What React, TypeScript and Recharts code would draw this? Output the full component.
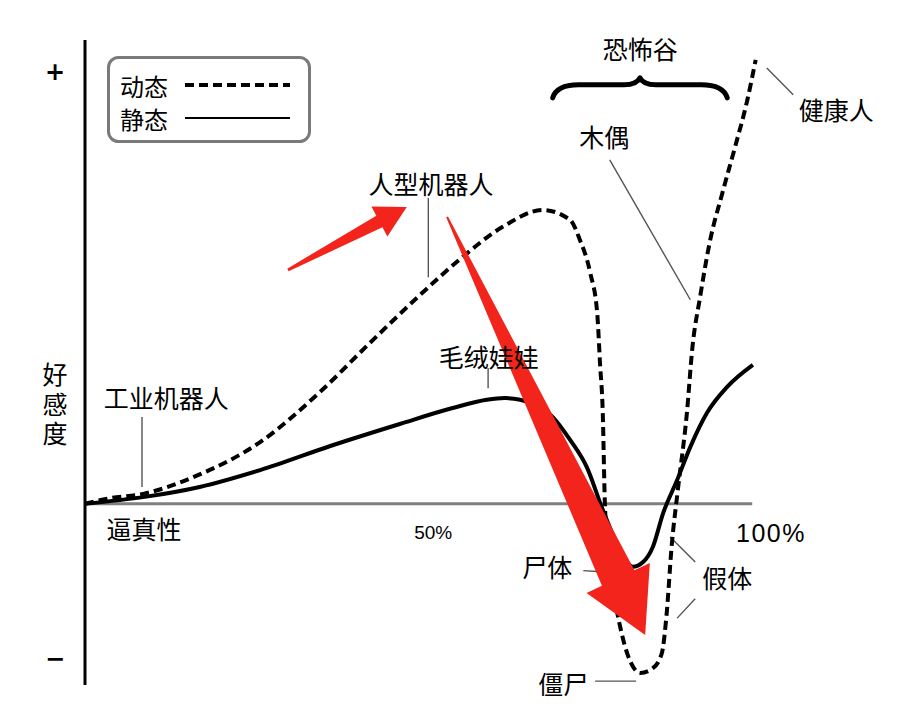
import React from "react";
import {
  Legend,
  Line,
  LineChart,
  ReferenceDot,
  ReferenceLine,
  XAxis,
  YAxis
} from "recharts";

// realism (0-100%) vs affinity
const dynamicX = [0, 3.6, 8.35, 16.5, 25.2, 33.8, 41.0, 48.2, 54.4, 60.1, 65.9, 69.8, 71.2, 72.7, 73.7, 74.1, 74.5, 74.8, 75.5, 76.5, 78.0, 79.9, 81.7, 83.0, 83.7, 84.4, 85.3, 86.6, 87.4, 88.5, 89.9, 91.7, 93.5, 95.3, 96.5];
const dynamicY = [0, 1.3, 2.3, 6.8, 14.3, 25.9, 37.3, 48.4, 57.3, 64.2, 68.1, 65.8, 61.2, 53.5, 44.2, 32.6, 21.0, 0.2, -15.3, -24.6, -34.6, -39.2, -38.1, -34.6, -25.3, -10.0, 3.2, 21.0, 36.3, 47.9, 60.7, 72.0, 82.5, 93.6, 102.9];

const staticX = [0, 8.6, 16.5, 25.2, 35.3, 45.3, 52.9, 57.8, 60.4, 62.6, 67.3, 69.8, 72.2, 74.5, 77.0, 78.8, 80.3, 81.7, 83.2, 85.2, 87.1, 89.5, 92.4, 96.1];
const staticY = [0, 1.6, 3.9, 7.8, 13.4, 18.5, 22.2, 24.1, 24.5, 24.1, 20.1, 14.8, 8.5, -1.4, -10.7, -14.6, -13.5, -10.0, -2.1, 5.5, 13.2, 21.1, 27.1, 32.2];

const yTicks = [100, -36];

const dynamicData = dynamicX.map((x, i) => ({ x, y: dynamicY[i] }));
const staticData = staticX.map((x, i) => ({ x, y: staticY[i] }));

// annotations, in chart coordinates
const labels = [
  { text: "恐怖谷", x: 79.9, y: 105.7 },
  { text: "健康人", x: 108.1, y: 91.6 },
  { text: "木偶", x: 74.7, y: 85.3 },
  { text: "人型机器人", x: 49.8, y: 74.4 },
  { text: "毛绒娃娃", x: 58.1, y: 34.3 },
  { text: "工业机器人", x: 11.7, y: 24.8 },
  { text: "逼真性", x: 8.5, y: -5.5 },
  { text: "尸体", x: 66.5, y: -14.4 },
  { text: "假体", x: 92.4, y: -16.9 },
  { text: "僵尸", x: 68.8, y: -41.5 }
];

const yTitle = "好感度";
const yTitleAt = { x: -4.3, y: 22.6 };

const percentLabels = [
  { text: "50%", x: 50.1, y: -6.7, size: 19 },
  { text: "100%", x: 98.7, y: -6.7, size: 25 }
];

const leaders: [number, number, number, number][] = [
  [98.1, 101.0, 101.9, 94.8],
  [75.5, 79.7, 87.1, 47.3],
  [49.4, 70.9, 49.4, 52.5],
  [58.0, 31.5, 58.0, 26.8],
  [8.2, 20.1, 8.2, 3.9],
  [71.7, -15.5, 73.7, -15.7],
  [84.2, -7.7, 87.8, -13.5],
  [85.2, -26.5, 87.8, -22.0],
  [73.4, -41.1, 79.3, -41.1]
];

const smallArrow: [number, number, number, number] = [29.2, 54.2, 46.3, 68.8];
const bigArrow: [number, number, number, number] = [52.1, 66.5, 80.6, -30.4];
const brace: [number, number, number] = [67.3, 92.4, 94.1];

const CJK = "'Noto Sans CJK SC', 'Noto Sans', sans-serif";
const RED = "#f2241b";

function arrowShape(tailW: number, shaftW: number, headW: number, headL: number) {
  return (p: any) => {
    const { x1, y1, x2, y2 } = p;
    const dx = x2 - x1;
    const dy = y2 - y1;
    const len = Math.hypot(dx, dy);
    const ux = dx / len;
    const uy = dy / len;
    const nx = -uy;
    const ny = ux;
    const jx = x2 - ux * headL;
    const jy = y2 - uy * headL;
    const pts = [
      [x1 + (nx * tailW) / 2, y1 + (ny * tailW) / 2],
      [jx + (nx * shaftW) / 2, jy + (ny * shaftW) / 2],
      [jx + (nx * headW) / 2, jy + (ny * headW) / 2],
      [x2, y2],
      [jx - (nx * headW) / 2, jy - (ny * headW) / 2],
      [jx - (nx * shaftW) / 2, jy - (ny * shaftW) / 2],
      [x1 - (nx * tailW) / 2, y1 - (ny * tailW) / 2]
    ];
    return <polygon points={pts.map((q) => q.join(",")).join(" ")} fill={RED} />;
  };
}

function braceShape(p: any) {
  const { x1, y1, x2 } = p;
  const mid = (x1 + x2) / 2;
  const h = 13;
  const d = `M${x1},${y1} Q${x1 + 4},${y1 - h} ${x1 + 26},${y1 - h} L${mid - 16},${y1 - h} Q${mid - 3},${y1 - h} ${mid},${y1 - h - 7} Q${mid + 3},${y1 - h} ${mid + 16},${y1 - h} L${x2 - 26},${y1 - h} Q${x2 - 4},${y1 - h} ${x2},${y1}`;
  return <path d={d} fill="none" stroke="#000" strokeWidth={5} strokeLinecap="round" strokeLinejoin="round" />;
}

function LegendBox() {
  return (
    <svg width={204} height={87}>
      <rect x={1.5} y={1.5} width={201} height={84} rx={10} fill="#fff" stroke="#7a7a7a" strokeWidth={3} />
      <text x={13} y={29} fontSize={24} fontFamily={CJK} dominantBaseline="central">动态</text>
      <line x1={78} x2={183} y1={29} y2={29} stroke="#000" strokeWidth={4} strokeDasharray="9 5" />
      <text x={13} y={62} fontSize={24} fontFamily={CJK} dominantBaseline="central">静态</text>
      <line x1={78} x2={183} y1={62} y2={62} stroke="#000" strokeWidth={1.8} />
    </svg>
  );
}

function SignTick(props: any) {
  const { x, y, payload } = props;
  return (
    <text x={x - 30} y={y} textAnchor="middle" dominantBaseline="central" fontSize={24} fontWeight="bold" fontFamily="DejaVu Sans" fill="#000">
      {payload.value > 0 ? "+" : "−"}
    </text>
  );
}

export default function App() {
  return (
    <div style={{ position: "absolute", left: 0, top: 0, width: 922, height: 720, background: "#fff" }}>
      <LineChart width={922} height={720} margin={{ top: 40, right: 142, bottom: 35, left: 0 }}>
        <XAxis type="number" dataKey="x" domain={[0, 100]} hide />
        <YAxis
          type="number"
          domain={[-42, 107.5]}
          ticks={yTicks}
          width={85}
          tickSize={0}
          tickMargin={0}
          tickLine={false}
          axisLine={{ stroke: "#000", strokeWidth: 3 }}
          tick={<SignTick />}
        />
        <Legend
          layout="horizontal"
          verticalAlign="middle"
          align="center"
          wrapperStyle={{ left: 107, top: 56, width: 204, height: 87 }}
          content={() => <LegendBox />}
        />

        <ReferenceLine segment={[{ x: 0, y: 0 }, { x: 96, y: 0 }]} stroke="#808080" strokeWidth={3} />

        {leaders.map(([ax, ay, bx, by], i) => (
          <ReferenceLine
            key={"l" + i}
            segment={[{ x: ax, y: ay }, { x: bx, y: by }]}
            stroke="#555"
            strokeWidth={1.4}
            ifOverflow="visible"
          />
        ))}

        <Line
          data={staticData}
          dataKey="y"
          type="monotone"
          stroke="#000"
          strokeWidth={4}
          dot={false}
          activeDot={false}
          isAnimationActive={false}
        />
        <Line
          data={dynamicData}
          dataKey="y"
          type="monotone"
          stroke="#000"
          strokeWidth={4}
          strokeDasharray="9 5"
          dot={false}
          activeDot={false}
          isAnimationActive={false}
        />

        <ReferenceLine
          segment={[{ x: brace[0], y: brace[2] }, { x: brace[1], y: brace[2] }]}
          shape={braceShape}
          ifOverflow="visible"
        />

        {labels.map((l, i) => (
          <ReferenceDot
            key={"t" + i}
            x={l.x}
            y={l.y}
            ifOverflow="visible"
            shape={(p: any) => (
              <text x={p.cx} y={p.cy} textAnchor="middle" dominantBaseline="central" fontSize={25} fontFamily={CJK} fill="#000">
                {l.text}
              </text>
            )}
          />
        ))}
        <ReferenceDot
          x={yTitleAt.x}
          y={yTitleAt.y}
          ifOverflow="visible"
          shape={(p: any) => (
            <text
              x={p.cx}
              y={p.cy}
              textAnchor="middle"
              fontSize={25}
              fontFamily={CJK}
              fill="#000"
              style={{ writingMode: "vertical-rl", letterSpacing: 4.5 }}
            >
              {yTitle}
            </text>
          )}
        />
        {percentLabels.map((l, i) => (
          <ReferenceDot
            key={"p" + i}
            x={l.x}
            y={l.y}
            ifOverflow="visible"
            shape={(p: any) => (
              <text x={p.cx} y={p.cy} textAnchor="middle" dominantBaseline="central" fontSize={l.size} fontFamily="'Liberation Sans', Arial, sans-serif" letterSpacing={l.size > 20 ? 1.5 : 0} fill="#000">
                {l.text}
              </text>
            )}
          />
        ))}

        <ReferenceLine
          segment={[{ x: smallArrow[0], y: smallArrow[1] }, { x: smallArrow[2], y: smallArrow[3] }]}
          shape={arrowShape(3, 13, 34, 31)}
          ifOverflow="visible"
        />
        <ReferenceLine
          segment={[{ x: bigArrow[0], y: bigArrow[1] }, { x: bigArrow[2], y: bigArrow[3] }]}
          shape={arrowShape(2, 36, 70, 63)}
          ifOverflow="visible"
        />
      </LineChart>
    </div>
  );
}
